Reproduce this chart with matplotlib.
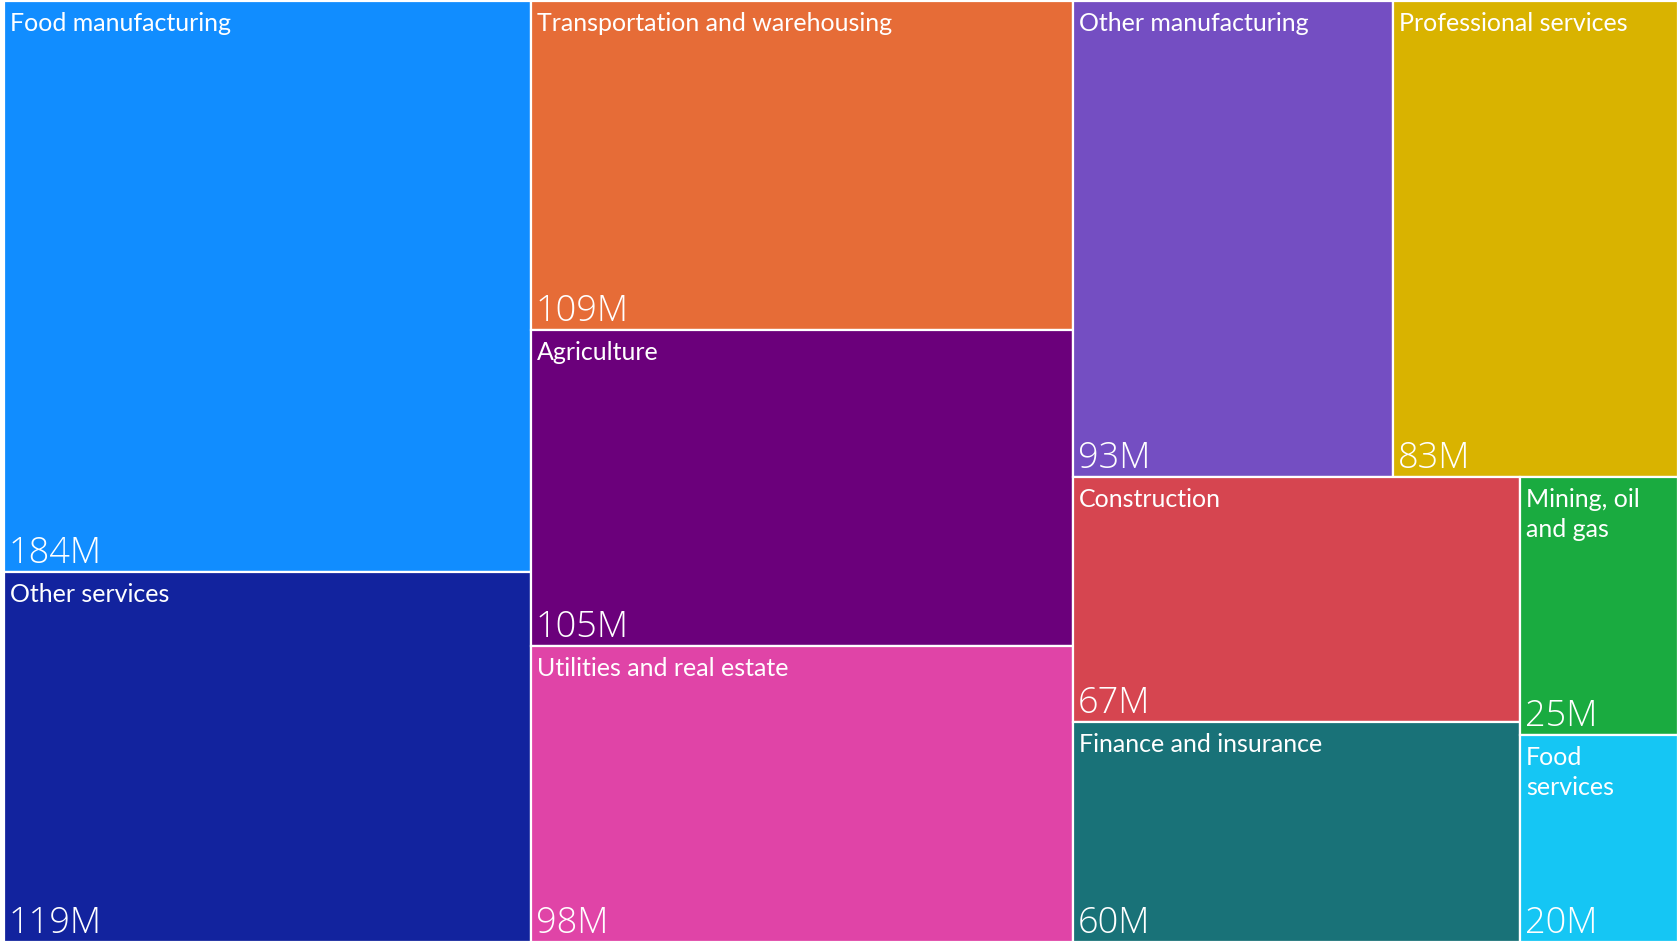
import matplotlib
matplotlib.use("Agg")
import matplotlib.pyplot as plt
from matplotlib.patches import Rectangle

# values in millions
categories = ["Food manufacturing", "Other services", "Transportation and warehousing",
              "Agriculture", "Utilities and real estate", "Other manufacturing",
              "Professional services", "Construction", "Finance and insurance",
              "Mining, oil and gas", "Food services"]
values = [184, 119, 109, 105, 98, 93, 83, 67, 60, 25, 20]
colors = ["#118DFF", "#12239E", "#E66C37", "#6B007B", "#E044A7", "#744EC2",
          "#D9B300", "#D64550", "#197278", "#1AAB40", "#15C6F4"]

W, H = 1678, 944
AREA = (4, 1, 1678, 942)   # x0, y0, x1, y1 in pixels
ASPECT_LIMIT = 2.5
LABEL_FONT = "Lato"
VALUE_FONT = "Open Sans"


def worst(row, side):
    s = sum(row)
    thick = s / side
    r = []
    for a in row:
        l = a / thick
        r.append(max(thick / l, l / thick))
    return max(r)


def squarify(vals, x, y, w, h):
    total = sum(vals)
    areas = [v * w * h / total for v in vals]
    rects = []
    i = 0
    while i < len(areas):
        side = min(w, h)
        row = [areas[i]]
        j = i + 1
        while j < len(areas):
            cand = row + [areas[j]]
            if worst(cand, side) <= max(worst(row, side), ASPECT_LIMIT):
                row = cand
                j += 1
            else:
                break
        thick = sum(row) / side
        if w >= h:
            yy = y
            for a in row:
                l = a / thick
                rects.append((x, yy, thick, l))
                yy += l
            x += thick
            w -= thick
        else:
            xx = x
            for a in row:
                l = a / thick
                rects.append((xx, y, l, thick))
                xx += l
            y += thick
            h -= thick
        i = j
    return rects


fig = plt.figure(figsize=(W / 100, H / 100), dpi=100)
ax = fig.add_axes([0, 0, 1, 1])
ax.set_xlim(0, W)
ax.set_ylim(H, 0)
ax.axis("off")

x0, y0, x1, y1 = AREA
rects = squarify(values, x0, y0, x1 - x0, y1 - y0)

fig.canvas.draw()
renderer = fig.canvas.get_renderer()


def text_width(s, size):
    t = ax.text(0, 0, s, fontsize=size, family=LABEL_FONT)
    wpx = t.get_window_extent(renderer).width
    t.remove()
    return wpx


def wrap(s, size, maxw):
    lines, cur = [], ""
    for word in s.split():
        trial = (cur + " " + word).strip()
        if cur and text_width(trial, size) > maxw:
            lines.append(cur)
            cur = word
        else:
            cur = trial
    lines.append(cur)
    return "\n".join(lines)


for (rx, ry, rw, rh), cat, val, col in zip(rects, categories, values, colors):
    ax.add_patch(Rectangle((rx, ry), rw, rh, facecolor=col, edgecolor="white", linewidth=1.6))
    label = wrap(cat, 18, rw - 14)
    ax.text(rx + 6, ry + 11, label, fontsize=18, family=LABEL_FONT, color="white",
            va="top", ha="left", linespacing=1.35)
    ax.text(rx + 5, ry + rh - 9, f"{val}M", fontsize=26, family=VALUE_FONT,
            fontweight="light", color="white", va="baseline", ha="left")

fig.savefig("out.png", dpi=100, facecolor="white")
